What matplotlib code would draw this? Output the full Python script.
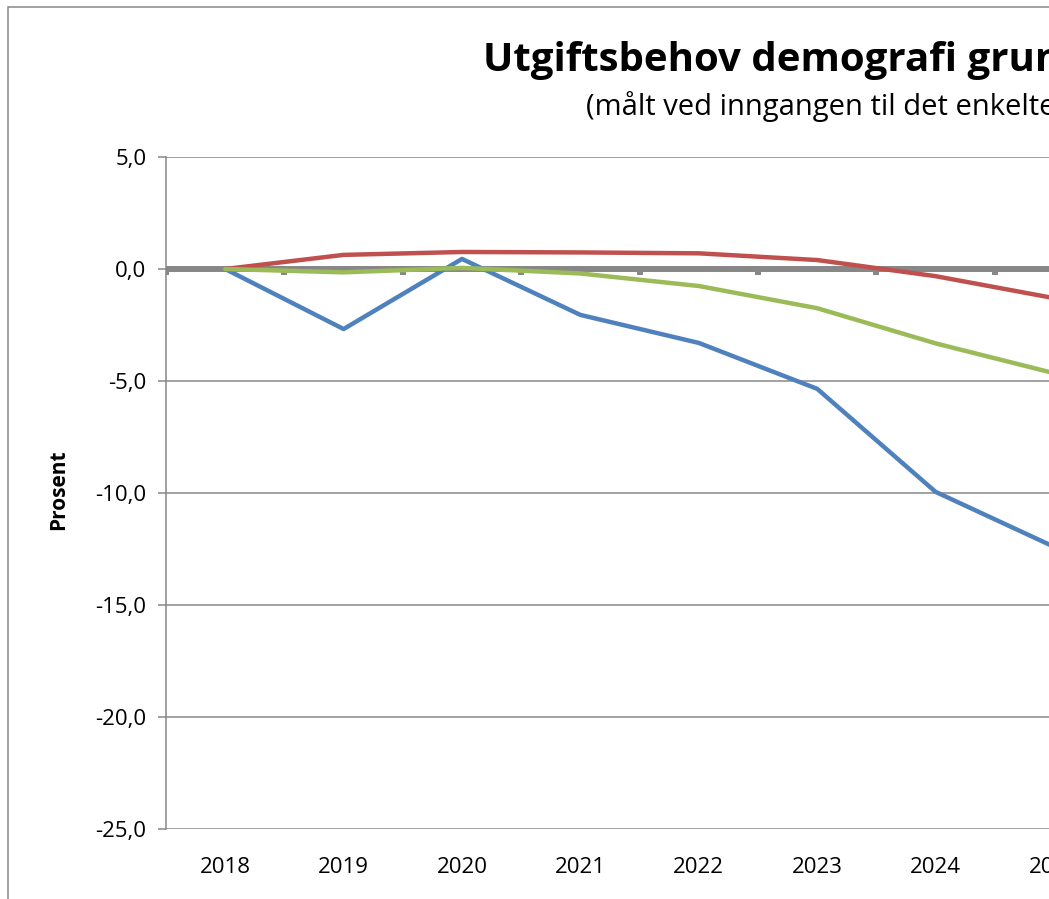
import numpy as np
import matplotlib.pyplot as plt
from matplotlib.patches import Rectangle

years = ['2018', '2019', '2020', '2021', '2022', '2023', '2024', '2025']
serie_bla = [0.0, -2.68, 0.45, -2.05, -3.3, -5.35, -9.95, -12.4]
serie_rod = [0.0, 0.63, 0.76, 0.74, 0.7, 0.4, -0.32, -1.3]
serie_gronn = [0.0, -0.15, 0.05, -0.2, -0.76, -1.75, -3.32, -4.65]
yticks = [5, 0, -5, -10, -15, -20, -25]

plt.rcParams['font.family'] = ['Open Sans', 'DejaVu Sans']
W, H = 1049, 899
fig = plt.figure(figsize=(W/100, H/100), dpi=100)

# axes run past the right edge, like the cropped original
x0, x1 = 166, 166 + 118.4*len(years)
ytop, ybot = 157, 829
ax = fig.add_axes([x0/W, 1-ybot/H, (x1-x0)/W, (ybot-ytop)/H])

grey = '#888888'
x = np.arange(len(years))
for yv in yticks:
    ax.axhline(yv, color=grey, lw=1.1, zorder=1)
# thick category axis at zero with tick stubs
ax.axhline(0, color='#878787', lw=4.3, zorder=2)
ax.vlines(x[:-1]+0.5, -0.25, 0, color='#878787', lw=4.3, zorder=2)
ax.vlines([-0.5], -0.25, 0, color='#878787', lw=4.3, zorder=2)

ax.plot(x, serie_bla, color='#4F81BD', lw=3.2, zorder=3, solid_capstyle='round')
ax.plot(x, serie_rod, color='#C0504D', lw=3.2, zorder=3, solid_capstyle='round')
ax.plot(x, serie_gronn, color='#9BBB59', lw=3.2, zorder=3, solid_capstyle='round')

ax.set_xlim(-0.5, len(years)-0.5)
ax.set_ylim(-25, 5)
ax.set_yticks(yticks)
ax.set_yticklabels([f'{v:.1f}'.replace('.', ',') for v in yticks], fontsize=16)
ax.set_xticks(x)
ax.set_xticklabels(years, fontsize=16)
ax.tick_params(axis='x', length=0, pad=20)
ax.tick_params(axis='y', length=6, width=1.1, color=grey, pad=8)
for s in ['top', 'right', 'bottom']:
    ax.spines[s].set_visible(False)
ax.spines['left'].set_color(grey)
ax.spines['left'].set_linewidth(1.1)
ax.set_ylabel('Prosent', fontsize=15, fontweight='bold')
ax.yaxis.set_label_coords(-0.102, 0.505)

fig.text(483/W, 1-71/H, 'Utgiftsbehov demografi grunnskole', fontsize=29,
         fontweight='bold', ha='left', va='baseline')
fig.text(586/W, 1-115/H, '(målt ved inngangen til det enkelte år)', fontsize=21,
         ha='left', va='baseline')

# outer chart border
fig.add_artist(Rectangle((8/W, -0.1), 1.2, 1.1-7/H, transform=fig.transFigure,
                         fill=False, edgecolor=grey, lw=1.1))

fig.savefig('out.png', dpi=100)
